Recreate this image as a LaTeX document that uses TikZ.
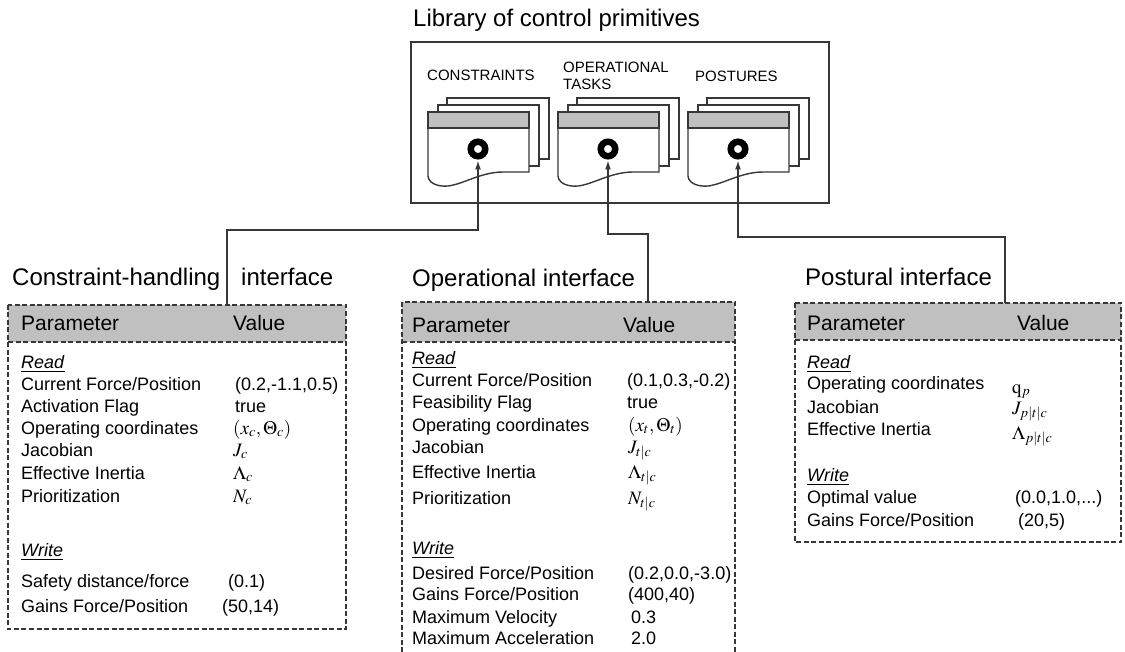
\documentclass[tikz,border=0pt]{standalone}
\usepackage{mathptmx}
\usepackage{fontspec}
\setmainfont{Liberation Sans}
\usepackage{tikz}
\usetikzlibrary{arrows.meta, positioning}
\definecolor{bandgray}{RGB}{192,192,192}
\definecolor{linegray}{RGB}{55,55,55}

\tikzset{
  heading/.style={anchor=base west, inner sep=0pt, font=\fontsize{24}{28}\selectfont},
  colhead/.style={anchor=base west, inner sep=0pt, font=\fontsize{21}{25}\selectfont},
  entry/.style={anchor=base west, inner sep=0pt, font=\fontsize{18}{22}\selectfont},
  mathval/.style={anchor=base west, inner sep=0pt, font=\fontsize{19}{22}\selectfont},
  libtag/.style={anchor=base west, inner sep=0pt, font=\fontsize{15}{17}\selectfont},
  panel/.style={draw=linegray, line width=1.1pt, dash pattern=on 5pt off 2.5pt},
  card/.style={draw=linegray, line width=1.4pt, fill=white},
  ring/.style={circle, draw=black, line width=6.5pt, minimum size=14.5pt, inner sep=0pt},
  link/.style={draw=linegray, line width=1.4pt},
  tip/.style={-{Latex[length=9pt,width=6pt]}, shorten >=1pt},
}

% one stack of primitive cards, front card left edge at #1
\newcommand{\cardstack}[2]{%
  \draw[card] (#1+19,98) rectangle ++(102,61);
  \draw[card] (#1+10,105) rectangle ++(101,61);
  \draw[card] (#1,112) -- (#1+101,112) -- (#1+101,172) -- (#1+75,172)
    .. controls (#1+50,172) and (#1+30,188) .. (#1+14,186)
    .. controls (#1+4,185) and (#1,180) .. (#1,176) -- cycle;
  \draw[card, fill=bandgray] (#1,112) rectangle ++(101,16);
  \node[ring] (#2) at (#1+50,149) {};
}

\begin{document}
\begin{tikzpicture}[x=1pt, y=-1pt]
\useasboundingbox (0,0) rectangle (1125,652);

% Library
\node[heading] (title) at (413,27) {Library of control primitives};
\draw[link] (411,42) rectangle (829,203);
\node[libtag] (tagC) at (427,80.5) {CONSTRAINTS};
\node[libtag] (tagT) at (563,72.5) {OPERATIONAL};
\node[libtag] (tagT2) at (563,89.5) {TASKS};
\node[libtag] (tagP) at (695,81.5) {POSTURES};
\cardstack{428}{ringC}
\cardstack{558}{ringT}
\cardstack{688}{ringP}

% Panels
\fill[bandgray] (8,305) rectangle (346,342);
\draw[panel] (8,305) rectangle (346,629);
\draw[panel] (8,342) -- (346,342);
\fill[bandgray] (402,302) rectangle (735,342);
\draw[panel] (402,652) -- (402,302) -- (735,302) -- (735,652);
\draw[panel] (402,342) -- (735,342);
\fill[bandgray] (795,303) rectangle (1121,340);
\draw[panel] (795,303) rectangle (1121,542);
\draw[panel] (795,340) -- (1121,340);

\node[heading] (nameC) at (12,286) {Constraint-handling};
\node[heading] (nameC2) at (241,286) {interface};
\node[heading] (nameT) at (412,287) {Operational interface};
\node[heading] (nameP) at (805,286) {Postural interface};

% Connectors
\coordinate (jointC) at (227,305);
\coordinate (jointT) at (648,302);
\coordinate (jointP) at (1005,303);
\draw[link, tip] (jointC) -- ++(0,-75) -| (ringC.south);
\draw[link, tip] (jointT) -- ++(0,-68) -| (ringT.south);
\draw[link, tip] (jointP) -- ++(0,-66) -| (ringP.south);

% Constraint-handling table
\node[colhead] (hC1) at (21,330.5) {Parameter};
\node[colhead] (hC2) at (233,330.5) {Value};
\node[entry] (rC) at (21,368.5) {\underline{\textit{Read}}};
\foreach \y/\p/\v [count=\i] in {384/{Current Force/Position}/{(0.2,-1.1,0.5)},
    406/{Activation Flag}/{true}}{
  \node[entry] (pC\i) at (21,\y+6.5) {\p};
  \node[entry] (vC\i) at (235,\y+6.5) {\v};
}
\foreach \y/\p/\v [count=\i from 3] in {428/{Operating coordinates}/{$(x_c,\Theta_c)$},
    450/{Jacobian}/{$J_c$},
    473/{Effective Inertia}/{$\Lambda_c$},
    496/{Prioritization}/{$N_c$}}{
  \node[entry] (pC\i) at (21,\y+6.5) {\p};
  \node[mathval] (vC\i) at (233,\y+6) {\v};
}
\node[entry] (wC) at (21,556.5) {\underline{\textit{Write}}};
\node[entry] (pC7) at (21,587.5) {Safety distance/force};
\node[entry] (vC7) at (228,587.5) {(0.1)};
\node[entry] (pC8) at (21,612.5) {Gains Force/Position};
\node[entry] (vC8) at (222,612.5) {(50,14)};

% Operational table
\node[colhead] (hT1) at (412,332.5) {Parameter};
\node[colhead] (hT2) at (623,332.5) {Value};
\node[entry] (rT) at (412,364.5) {\underline{\textit{Read}}};
\foreach \y/\p/\v [count=\i] in {380/{Current Force/Position}/{(0.1,0.3,-0.2)},
    402/{Feasibility Flag}/{true}}{
  \node[entry] (pT\i) at (412,\y+6.5) {\p};
  \node[entry] (vT\i) at (627,\y+6.5) {\v};
}
\foreach \y/\p/\v [count=\i from 3] in {425/{Operating coordinates}/{$(x_t,\Theta_t)$},
    447/{Jacobian}/{$J_{t|c}$},
    472/{Effective Inertia}/{$\Lambda_{t|c}$},
    498/{Prioritization}/{$N_{t|c}$}}{
  \node[entry] (pT\i) at (412,\y+6.5) {\p};
  \node[mathval] (vT\i) at (628,\y+6) {\v};
}
\node[entry] (wT) at (412,554.5) {\underline{\textit{Write}}};
\foreach \y/\p/\v [count=\i from 7] in {573/{Desired Force/Position}/{(0.2,0.0,-3.0)},
    594/{Gains Force/Position}/{(400,40)},
    617/{Maximum Velocity}/{\,0.3},
    638/{Maximum Acceleration}/{\,2.0}}{
  \node[entry] (pT\i) at (412,\y+6.5) {\p};
  \node[entry] (vT\i) at (628,\y+6.5) {\v};
}

% Postural table
\node[colhead] (hP1) at (807,330.5) {Parameter};
\node[colhead] (hP2) at (1017,330.5) {Value};
\node[entry] (rP) at (807,368.5) {\underline{\textit{Read}}};
\node[entry] (pP1) at (807,389.5) {Operating coordinates};
\node[mathval] (vP1) at (1012,393) {$\mathrm{q}_p$};
\node[entry] (pP2) at (807,413.5) {Jacobian};
\node[mathval] (vP2) at (1012,414) {$J_{p|t|c}$};
\node[entry] (pP3) at (807,435.5) {Effective Inertia};
\node[mathval] (vP3) at (1012,439) {$\Lambda_{p|t|c}$};
\node[entry] (wP) at (807,481.5) {\underline{\textit{Write}}};
\node[entry] (pP4) at (807,503.5) {Optimal value};
\node[entry] (vP4) at (1015,503.5) {(0.0,1.0,...)};
\node[entry] (pP5) at (807,526.5) {Gains Force/Position};
\node[entry] (vP5) at (1018,526.5) {(20,5)};
\end{tikzpicture}
\end{document}
